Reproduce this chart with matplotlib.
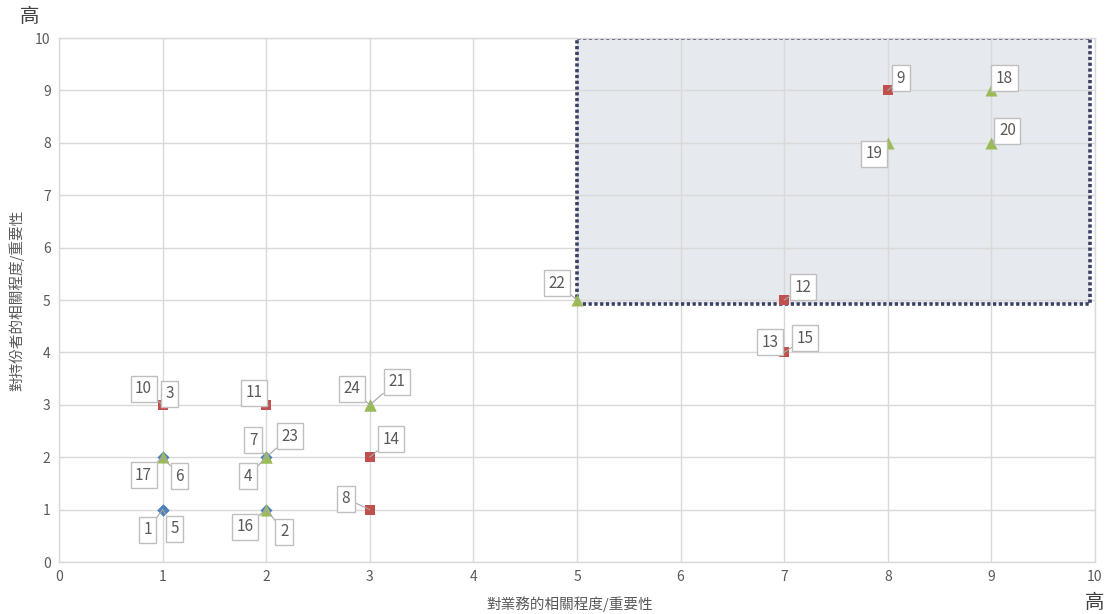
import matplotlib
matplotlib.use("Agg")
import matplotlib.pyplot as plt
from matplotlib.patches import Rectangle

plt.rcParams['font.family'] = ['Noto Sans CJK TC', 'DejaVu Sans']

# ---- data ----
blue_ids = ["1", "5", "6", "7", "2"]
blue_x = [1, 1, 1, 2, 2]
blue_y = [1, 1, 2, 2, 1]

red_ids = ["10", "3", "11", "14", "8", "12", "13", "15", "9"]
red_x = [1, 1, 2, 3, 3, 7, 7, 7, 8]
red_y = [3, 3, 3, 2, 1, 5, 4, 4, 9]

green_ids = ["17", "23", "4", "16", "24", "21", "22", "19", "18", "20"]
green_x = [1, 2, 2, 2, 3, 3, 5, 8, 9, 9]
green_y = [2, 2, 2, 1, 3, 3, 5, 8, 9, 8]

x_ticks = [0, 1, 2, 3, 4, 5, 6, 7, 8, 9, 10]
y_ticks = [0, 1, 2, 3, 4, 5, 6, 7, 8, 9, 10]
x_title = "對業務的相關程度/重要性"
y_title = "對持份者的相關程度/重要性"
corner_label = "高"
highlight_x = [5, 9.95]
highlight_y = [4.93, 10]

# ---- layout: label offsets in pixels (dx right, dy up) ----
label_offsets = {
    "1": (-15, -20), "5": (12, -19), "17": (-19, -18), "6": (17, -19),
    "10": (-19, 16), "3": (7, 11), "11": (-12, 12), "7": (-13, 17),
    "23": (24, 21), "4": (-18, -19), "16": (-21, -17), "2": (18, -22),
    "24": (-18, 16), "21": (27, 23), "14": (21, 18), "8": (-24, 11),
    "22": (-20, 17), "12": (19, 13), "13": (-14, 10), "15": (21, 14),
    "9": (13, 12), "19": (-14, -11), "18": (13, 12), "20": (16, 12),
}

W, H = 1110, 614
fig = plt.figure(figsize=(W / 100, H / 100), dpi=100)
ax = fig.add_axes([59 / W, (H - 562) / H, (1095 - 59) / W, (562 - 38) / H])

ax.set_xlim(0, 10)
ax.set_ylim(0, 10)
ax.set_xticks(x_ticks)
ax.set_yticks(y_ticks)
ax.tick_params(length=0, colors="#595959", labelsize=10, pad=6)
ax.grid(True, color="#d9d9d9", linewidth=1)
ax.set_axisbelow(True)
for s in ax.spines.values():
    s.set_color("#d9d9d9")
    s.set_linewidth(1)

# highlight region
ax.add_patch(Rectangle((highlight_x[0], highlight_y[0]),
                       highlight_x[1] - highlight_x[0], highlight_y[1] - highlight_y[0],
                       facecolor="#e6e9ee", edgecolor="none", zorder=0.2))
ax.add_patch(Rectangle((highlight_x[0], highlight_y[0]),
                       highlight_x[1] - highlight_x[0], highlight_y[1] - highlight_y[0],
                       facecolor="none", edgecolor="#3b4064", linewidth=2.6,
                       linestyle=(0, (0.9, 0.7)), zorder=2))

ax.scatter(blue_x, blue_y, marker="D", s=38, color="#4f81bd", zorder=3, linewidths=0)
ax.scatter(red_x, red_y, marker="s", s=60, color="#c0504d", zorder=3, linewidths=0)
ax.scatter(green_x, green_y, marker="^", s=75, color="#9bbb59", zorder=4, linewidths=0)

for ids, xs, ys in [(blue_ids, blue_x, blue_y), (red_ids, red_x, red_y), (green_ids, green_x, green_y)]:
    for i, x, y in zip(ids, xs, ys):
        dx, dy = label_offsets[i]
        ax.annotate(i, (x, y), xytext=(dx, dy), textcoords="offset pixels",
                    ha="center", va="center", fontsize=11, color="#595959",
                    bbox=dict(boxstyle="square,pad=0.3", facecolor="white",
                              edgecolor="#bfbfbf", linewidth=1),
                    arrowprops=dict(arrowstyle="-", color="#a6a6a6", linewidth=0.8,
                                    shrinkA=0, shrinkB=0),
                    zorder=5)

fig.text(570 / W, 1 - 604 / H, x_title, ha="center", va="center", fontsize=10.5, color="#595959")
fig.text(17 / W, 1 - 300 / H, y_title, ha="center", va="center", rotation=90, fontsize=10.5, color="#595959")
fig.text(30 / W, 1 - 16 / H, corner_label, ha="center", va="center", fontsize=14, color="#404040")
fig.text(1095 / W, 1 - 602 / H, corner_label, ha="center", va="center", fontsize=14, color="#404040")

fig.savefig("out.png", dpi=100, facecolor="white")
